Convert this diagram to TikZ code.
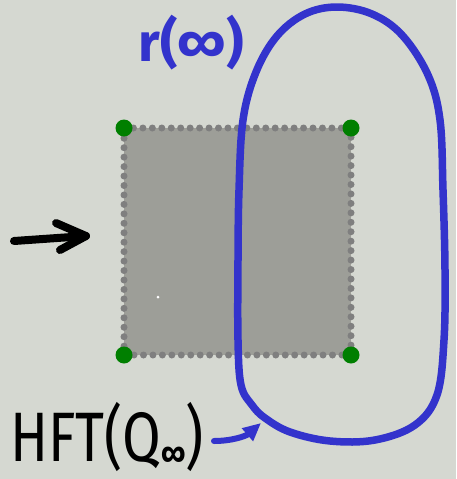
\documentclass[tikz,border=0pt]{standalone}
\usepackage{fontspec}
\setmainfont{Fira Sans}
\usetikzlibrary{arrows.meta}
\definecolor{paper}{HTML}{D5D8D1}
\definecolor{sq}{HTML}{9D9E98}
\definecolor{dotgray}{HTML}{7F7F7F}
\definecolor{ink}{HTML}{3333CC}
\definecolor{vert}{HTML}{007F00}
\tikzset{
  corner/.style={circle,fill=vert,inner sep=0pt,minimum size=17pt},
  pen/.style={line width=7.5pt,line cap=round,line join=round},
}
\begin{document}
\begin{tikzpicture}[x=1pt,y=-1pt]
\fill[paper] (0,0) rectangle (456,479);
\useasboundingbox (0,0) rectangle (456,479);
% square with dotted outline
\coordinate (tl) at (124,128);
\coordinate (tr) at (351,128);
\coordinate (bl) at (124,355);
\coordinate (br) at (351,355);
\fill[sq] (tl) rectangle (br);
\draw[dotgray,line width=7pt,line cap=round,dash pattern=on 0pt off 9.45pt] (tl) -- (tr) -- (br) -- (bl) -- cycle;
\node[corner] (c1) at (tl) {};
\node[corner] (c2) at (tr) {};
\node[corner] (c3) at (bl) {};
\node[corner] (c4) at (br) {};
\fill[white] (158,297) circle (1.5pt);
% incoming arrow
\coordinate (a0) at (14,241);
\coordinate (a1) at (86,236);
\draw[pen,black,line width=8pt] (a0) -- (a1);
\draw[pen,black,line width=8pt] (56,223) -- (a1) -- (60,250);
% blue loop
\draw[pen,ink] plot[smooth cycle,tension=0.6] coordinates{
 (243,120) (239,190) (238,260) (238,340) (241,385) (252,405) (265,418)
 (290,432) (330,441) (375,440) (415,425) (437,395) (444,340) (445,270)
 (443,190) (440,120) (428,75) (402,35) (372,14) (337,7) (305,14) (277,36)
 (256,72)};
% labels
\node[ink,font=\fontsize{54}{54}\selectfont\bfseries,inner sep=0pt] (lr) at (191,43) {r(∞)};
\node[black,font=\fontsize{70}{70}\selectfont\mdseries,inner sep=0pt,xscale=0.8,anchor=west] (lh) at (10,437) {HFT(Q\raisebox{-4pt}{\fontsize{34}{34}\selectfont\bfseries ∞})};
\coordinate (h0) at (214,441);
\coordinate (h1) at (261,423);
\draw[pen,ink,line width=6pt,-{Triangle[length=18pt,width=16pt]}] (h0) .. controls (232,441) and (246,436) .. (h1);
\end{tikzpicture}
\end{document}
